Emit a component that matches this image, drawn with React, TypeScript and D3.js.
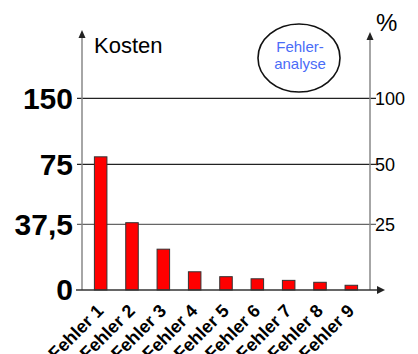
import React from "react";
import * as d3 from "d3";

const categories = ["Fehler 1", "Fehler 2", "Fehler 3", "Fehler 4", "Fehler 5", "Fehler 6", "Fehler 7", "Fehler 8", "Fehler 9"];
const costs = [83.5, 38.5, 23.3, 10.4, 7.6, 6.4, 5.5, 4.4, 2.7];
const leftTicks = [0, 37.5, 75, 150];
const leftTickLabels = ["0", "37,5", "75", "150"];
const rightTicks = [25, 50, 100];
const rightTickLabels = ["25", "50", "100"];

const W = 418;
const H = 354;
const xL = 82;
const xR = 370;
const y0 = 290;

export default function App() {
  const yScale = d3.scaleLinear().domain(leftTicks).range([290, 224.3, 164.3, 98.3]);
  const yRight = d3.scaleLinear().domain([0, ...rightTicks]).range([290, 224.3, 164.3, 98.3]);
  const x = d3.scaleBand<string>().domain(categories).range([85, 367]).paddingInner(0.6).paddingOuter(0.3);
  const font = "'Liberation Sans', Arial, sans-serif";
  const gridColor = (v: number) => (v >= 75 ? "#222" : "#666");

  return (
    <svg width={W} height={H} style={{ position: "absolute", left: 0, top: 0, background: "#fff" }} fontFamily={font}>
      {/* gridlines */}
      {leftTicks.filter((v) => v > 0).map((v) => (
        <line key={"g" + v} x1={xL - 5} x2={xR + 6} y1={yScale(v)} y2={yScale(v)} stroke={gridColor(v)} strokeWidth={1.2} />
      ))}
      {/* bars */}
      {categories.map((c, i) => (
        <rect key={c} x={x(c)} y={yScale(costs[i])} width={x.bandwidth()} height={y0 - yScale(costs[i])}
          fill="#ff0000" stroke="#333" strokeWidth={1} />
      ))}
      {/* left axis */}
      <line x1={xL} x2={xL} y1={y0} y2={36} stroke="#888" strokeWidth={1.5} />
      <path d={`M${xL},30 L${xL - 3.5},38 L${xL + 3.5},38 Z`} fill="#222" />
      {/* right axis */}
      <line x1={xR} x2={xR} y1={y0} y2={38} stroke="#888" strokeWidth={1.5} />
      <path d={`M${xR},32 L${xR - 3.5},40 L${xR + 3.5},40 Z`} fill="#222" />
      {/* x axis */}
      <line x1={xL - 6} x2={378} y1={y0} y2={y0} stroke="#333" strokeWidth={1.5} />
      <path d={`M385,${y0} L377,${y0 - 4} L377,${y0 + 4} Z`} fill="#222" />
      {/* left tick labels */}
      {leftTicks.map((v, i) => (
        <text key={"l" + v} x={73} y={yScale(v)} dy="0.34em" textAnchor="end" fontSize={30} fontWeight="bold" fill="#000">
          {leftTickLabels[i]}
        </text>
      ))}
      {/* right tick labels */}
      {rightTicks.map((v, i) => (
        <text key={"r" + v} x={375} y={yRight(v)} dy="0.36em" textAnchor="start" fontSize={18} fill="#000">
          {rightTickLabels[i]}
        </text>
      ))}
      {/* x labels */}
      {categories.map((c) => (
        <text key={"x" + c} transform={`translate(${(x(c) as number) + x.bandwidth() / 2 + 4},312) rotate(-45)`}
          textAnchor="end" fontSize={18} fontWeight="bold" fill="#000">
          {c}
        </text>
      ))}
      {/* titles */}
      <text x={94} y={53} fontSize={22} fill="#000">Kosten</text>
      <text x={376} y={31} fontSize={24} fill="#000">%</text>
      {/* ellipse */}
      <ellipse cx={299} cy={58} rx={41} ry={34} fill="#fff" stroke="#111" strokeWidth={1.6} />
      <text x={300} y={52} textAnchor="middle" fontSize={15} fill="#4a6cf7">Fehler-</text>
      <text x={300} y={69} textAnchor="middle" fontSize={15} fill="#4a6cf7">analyse</text>
    </svg>
  );
}
